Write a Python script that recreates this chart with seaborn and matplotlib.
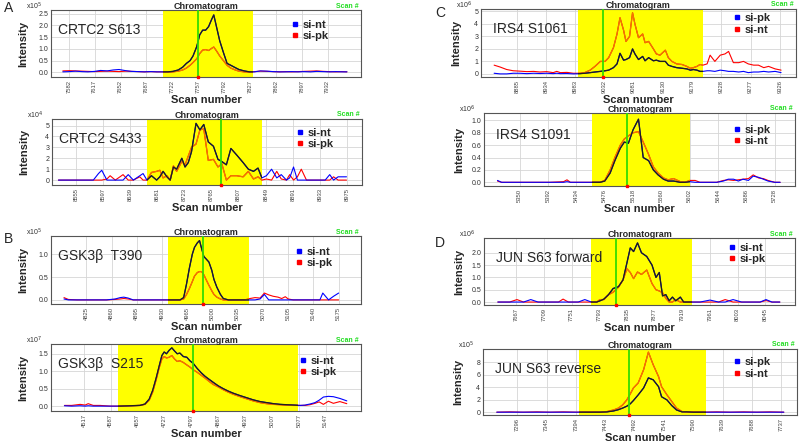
import matplotlib
matplotlib.use("Agg")
import matplotlib.pyplot as plt
import seaborn as sns
import pandas as pd
from matplotlib.lines import Line2D

sns.set_theme(style="whitegrid")
plt.rcParams['font.family'] = ['Liberation Sans', 'DejaVu Sans']

# ---------------- data ----------------
# A1  CRTC2 S613 (x1e5)
a1_scan = [7574,7583,7591,7600,7608,7617,7625,7634,7642,7650,7659,7667,7676,7684,7693,7701,7710,
           7716,7723,7730,7736,7741,7746,7750,7755,7759,7763,7767,7771,7775,7778,7782,7786,7791,7796,7801,7807,7812,7819,7826,
           7833,7841,7850,7858,7867,7875,7883,7892,7900,7909,7917,7926,7934,7943,7951,7958]
a1_blue = [0.02,0.03,0.05,0.03,0.02,0.04,0.08,0.06,0.10,0.12,0.07,0.04,0.03,0.02,0.03,0.02,0.02,
           0.02,0.04,0.10,0.22,0.38,0.50,0.70,1.10,1.60,1.80,1.80,1.95,2.25,2.45,1.90,1.35,0.85,0.38,0.30,0.20,0.12,0.06,0.02,
           0.02,0.06,0.05,0.03,0.02,0.02,0.03,0.02,0.03,0.02,0.04,0.03,0.02,0.03,0.02,0.02]
a1_red = [0.06,0.07,0.06,0.05,0.04,0.03,0.04,0.05,0.04,0.03,0.05,0.04,0.03,0.02,0.03,0.02,0.02,
          0.01,0.02,0.05,0.10,0.18,0.30,0.42,0.58,0.80,0.95,0.97,0.93,1.02,1.08,0.90,0.70,0.50,0.30,0.18,0.10,0.05,0.02,0.01,
          0.03,0.05,0.04,0.03,0.02,0.03,0.02,0.03,0.04,0.05,0.06,0.04,0.03,0.02,0.03,0.02]

# A2  CRTC2 S433 (x1e4)
a2_scan = [8528,8582,8590,8595,8603,8608,8616,8628,8636,8644,
           8654,8659,8665,8672,8680,8685,8690,8696,8701,8706,
           8711,8719,8724,8729,8734,8741,8747,8753,8760,8768,
           8775,8781,8788,8795,8804,8814,8822,8830,8837,8843,
           8850,8858,8866,8873,8881,8886,8892,8898,8904,8912,
           8933,8941,8948,8954,8961,8974]
a2_blue = [0,0,0.6,0.9,0,0,0,0,0.5,0,
           0.4,0.6,0,0.4,0,0.3,0.8,0.3,0,1.2,
           1.0,2.0,1.2,1.6,2.6,5.2,4.6,5.1,3.5,3.1,
           1.9,1.7,1.4,2.9,2.3,1.6,1.0,0.8,1.1,0.2,
           0.4,1.0,0.2,0.5,0,0.2,1.2,0,0,0,
           0,0,0.5,0,0.3,0.3]
a2_red = [0,0,0,0,0.1,0.4,0,0.5,0,0,
          0.3,0,0,0.7,0.8,0.9,0.2,0.4,0,1.3,
          0.8,1.7,1.4,2.2,3.0,3.3,4.6,4.7,1.8,1.9,
          1.2,1.5,0.0,0.4,0.4,0.3,0.8,0.1,0.3,0.0,
          0.1,0.0,0.8,0.1,0.0,0.5,0.0,0.3,1.0,0.0,
          0,0,0,0.3,0,0]

# B1  GSK3b T390 (x1e5)
b1_scan = [4794,4800,4812,4826,4839,4853,4865,4872,4877,4883,
           4890,4904,4918,4932,4946,4955,4960,4964,4968,4972,
           4975,4979,4982,4985,4988,4991,4995,4999,5002,5006,
           5011,5015,5022,5034,5045,5052,5059,5066,5072,5078,
           5084,5091,5096,5101,5105,5112,5126,5140,5149,5153,
           5161,5168,5175]
b1_blue = [0.02,0,0,0,0,0,0.02,0.05,0.06,0.04,
           0,0,0,0,0,0.0,0.05,0.35,0.7,1.0,
           1.15,1.25,1.3,1.12,0.95,0.9,0.83,0.65,0.45,0.28,
           0.12,0.03,0,0,0,0,0,0.02,0.12,0.0,
           0,0,0,0,0,0,0,0,0.0,0.15,
           0.0,0.08,0.15]
b1_red = [0.05,0.01,0,0,0,0,0.01,0.02,0.03,0.02,
          0,0,0,0,0,0.0,0.02,0.12,0.25,0.4,
          0.52,0.6,0.62,0.62,0.55,0.45,0.32,0.2,0.12,0.06,
          0.02,0.0,0,0,0,0.03,0.05,0.04,0.15,0.11,
          0.08,0.06,0.03,0.07,0.02,0,0,0,0,0,
          0,0,0]

# B2  GSK3b S215 (x1e7)
b2_scan = [4466,4485,4507,4520,4528,4541,4559,4585,4611,4637,
           4663,4676,4687,4696,4705,4713,4720,4726,4732,4739,
           4746,4753,4760,4767,4776,4785,4793,4802,4812,4823,
           4833,4844,4854,4867,4880,4893,4906,4924,4941,4958,
           4976,4993,5011,5028,5045,5063,5080,5093,5106,5119,
           5130,5141,5154,5167,5184,5202]
b2_blue = [0.01,0.0,0.01,0.0,0.01,0.0,0.0,0.0,0.0,0.01,
           0.02,0.06,0.2,0.45,0.8,1.15,1.45,1.55,1.5,1.6,
           1.67,1.58,1.5,1.52,1.42,1.4,1.3,1.22,1.08,0.95,
           0.85,0.76,0.68,0.58,0.5,0.43,0.37,0.3,0.24,0.18,
           0.13,0.1,0.07,0.05,0.04,0.03,0.02,0.03,0.06,0.1,
           0.17,0.26,0.28,0.27,0.22,0.15]
b2_red = [0.02,0.02,0.05,0.03,0.07,0.02,0.02,0.0,0.0,0.01,
          0.02,0.05,0.17,0.4,0.75,1.1,1.35,1.42,1.38,1.4,
          1.45,1.35,1.28,1.3,1.25,1.18,1.12,1.04,0.97,0.88,
          0.8,0.7,0.62,0.55,0.47,0.4,0.34,0.27,0.21,0.15,
          0.1,0.07,0.05,0.04,0.03,0.02,0.02,0.02,0.04,0.08,
          0.12,0.05,0.14,0.08,0.13,0.07]

# C1  IRS4 S1061 (x1e6)
c1_scan = [8847,8857,8868,8879,8890,8902,8913,8924,8935,8946,
           8952,8958,8969,8980,8991,8999,9008,9016,9025,9033,
           9039,9047,9053,9058,9064,9068,9074,9079,9083,9089,
           9096,9100,9106,9114,9119,9125,9134,9139,9145,9153,
           9162,9170,9176,9181,9187,9192,9197,9204,9209,9217,
           9226,9234,9240,9248,9257,9265,9273,9282,9290,9299,
           9307,9318,9328]
c1_blue = [0.05,0.0,0.0,0.05,0.05,0.02,0.05,0.03,0.05,0.02,
           0.05,0.02,0.03,0.0,0.02,0.05,0.1,0.15,0.2,0.25,
           0.3,0.5,0.8,1.65,1.1,1.15,1.3,2.0,1.6,1.15,
           1.4,1.05,1.3,1.05,1.1,1.0,1.0,0.7,0.6,0.5,
           0.45,0.4,0.3,0.35,0.3,0.2,0.2,0.25,0.25,0.2,
           0.3,0.25,0.2,0.2,0.15,0.2,0.1,0.15,0.15,0.2,
           0.15,0.2,0.1]
c1_red = [0.7,0.55,0.35,0.25,0.22,0.18,0.2,0.15,0.18,0.1,
          0.2,0.1,0.12,0.05,0.05,0.1,0.3,0.6,1.0,1.0,
          1.3,2.1,3.2,4.5,3.5,2.6,3.0,4.9,4.0,2.9,
          3.2,2.5,2.6,2.0,1.6,1.5,1.9,1.3,1.0,0.8,
          0.75,0.6,0.45,0.5,0.6,0.75,0.7,0.8,1.5,1.0,
          1.5,1.6,1.8,0.9,0.9,1.0,0.8,0.7,0.7,0.5,
          0.6,0.4,0.3]

# C2  IRS4 S1091 (x1e6)
c2_scan = [5317,5323,5345,5370,5395,5415,5420,5425,5439,5459,
           5469,5476,5484,5491,5499,5505,5511,5518,5526,5533,
           5541,5548,5555,5563,5570,5578,5588,5595,5602,5610,
           5617,5632,5642,5652,5659,5667,5674,5681,5689,5696,
           5704,5711,5718,5728,5736]
c2_blue = [0.03,0.0,0.0,0.0,0.0,0.0,0.01,0.0,0.0,0.0,
           0.0,0.02,0.15,0.35,0.55,0.65,0.63,0.85,1.02,0.4,
           0.35,0.2,0.12,0.05,0.02,0.02,0.0,0.0,0.01,0.0,
           0.0,0.0,0.0,0.02,0.05,0.05,0.02,0.05,0.03,0.1,
           0.08,0.05,0.02,0.0,0.0]
c2_red = [0.02,0.0,0.0,0.0,0.0,0.01,0.04,0.0,0.0,0.0,
          0.0,0.03,0.2,0.4,0.6,0.7,0.75,0.8,0.82,0.65,
          0.45,0.25,0.15,0.07,0.04,0.06,0.01,0.0,0.03,0.03,
          0.0,0.0,0.0,0.03,0.04,0.03,0.04,0.05,0.06,0.12,
          0.07,0.06,0.03,0.0,0.0]

# D1  JUN S63 forward (x1e6)
d1_scan = [7639,7657,7668,7678,7689,7700,7718,7731,7738,7746,
           7761,7771,7781,7789,7794,7800,7807,7814,7822,7829,
           7835,7840,7845,7851,7857,7865,7873,7879,7884,7889,
           7894,7899,7904,7909,7916,7921,7931,7946,7961,7974,
           7984,7996,8009,8027,8037,8046,8055,8067]
d1_blue = [0,0,0,0,0.1,0,0,0,0,0,
           0,0.1,0,0,0.05,0.12,0.3,0.55,0.62,0.9,
           1.6,2.2,2.05,2.4,2.0,1.85,1.5,1.0,1.2,0.25,
           0.3,0.05,0.2,0.05,0.2,0.0,0,0,0.08,0,
           0,0.1,0,0,0,0.1,0,0]
d1_red = [0,0,0.1,0,0,0,0,0,0.12,0,
          0,0,0,0,0.1,0.1,0.3,0.4,0.6,0.9,
          1.35,1.2,0.95,1.22,1.12,1.3,0.75,0.5,0.45,0.38,
          0.15,0.0,0.0,0.1,0.0,0,0,0,0,0,
          0.1,0,0,0,0,0.06,0,0]

# D2  JUN S63 reverse (x1e5)
d2_scan = [7262,7284,7306,7329,7351,7373,7395,7418,7434,7446,
           7457,7465,7472,7479,7485,7490,7498,7507,7515,7523,
           7532,7537,7546,7554,7562,7571,7579,7590,7607,7629,
           7652,7674,7696,7718,7741]
d2_blue = [0.05,0.05,0.05,0.05,0.05,0.05,0.05,0.05,0.05,0.1,
           0.25,0.45,0.7,1.0,1.4,1.9,2.8,3.9,5.5,5.2,
           4.1,2.5,2.0,1.1,0.4,0.1,0.1,0.05,0.05,0.05,
           0.05,0.05,0.05,0.05,0.05]
d2_red = [0.05,0.1,0.05,0.1,0.05,0.1,0.05,0.1,0.05,0.15,
          0.4,0.7,1.2,2.0,3.0,3.9,4.7,6.8,9.6,7.6,
          5.7,4.1,2.8,1.75,0.7,0.15,0.1,0.1,0.05,0.1,
          0.05,0.1,0.05,0.1,0.05]

# tick labels / ranges
a1_ticks = [7582,7617,7652,7687,7722,7757,7792,7827,7862,7897,7932]
a2_ticks = [8555,8597,8639,8681,8723,8765,8807,8849,8891,8933,8975]
b1_ticks = [4825,4860,4895,4930,4965,5000,5035,5070,5105,5140,5175]
b2_ticks = [4517,4587,4657,4727,4797,4867,4937,5007,5077,5147]
c1_ticks = [8885,8934,8983,9032,9081,9130,9179,9228,9277,9326]
c2_ticks = [5350,5392,5434,5476,5518,5560,5602,5644,5686,5728]
d1_ticks = [7667,7709,7751,7793,7835,7877,7919,7961,8003,8045]
d2_ticks = [7296,7345,7394,7443,7492,7541,7590,7639,7688,7737]

a1_yt = ["0.0","0.5","1.0","1.5","2.0","2.5"]
a2_yt = ["0","1","2","3","4","5"]
b1_yt = ["0.0","0.5","1.0"]
b2_yt = ["0.0","0.5","1.0","1.5"]
c1_yt = ["0","1","2","3","4","5"]
c2_yt = ["0.0","0.2","0.4","0.6","0.8","1.0"]
d1_yt = ["0.0","0.5","1.0","1.5","2.0"]
d2_yt = ["0","2","4","6","8"]

panels = [
    dict(letter=("A", 4, 8), name="CRTC2 S613", exp="5", rect=(51, 10, 361, 77), xlim=(7558, 7977), ticks=a1_ticks,
         span=(7710, 7831), green=7757, ylim=(-0.2, 2.66), yt=a1_yt,
         scan=a1_scan, blue=a1_blue, red=a1_red, labels=("si-nt", "si-pk"), leg=(291, 30.5)),
    dict(letter=None, name="CRTC2 S433", exp="4", rect=(52, 119, 362, 185), xlim=(8518, 8998), ticks=a2_ticks,
         span=(8665, 8843), green=8780, ylim=(-0.45, 5.6), yt=a2_yt,
         scan=a2_scan, blue=a2_blue, red=a2_red, labels=("si-nt", "si-pk"), leg=(296, 138.5)),
    dict(letter=("B", 4, 239), name="GSK3β  T390", exp="5", rect=(51, 236, 361, 304), xlim=(4776, 5206), ticks=b1_ticks,
         span=(4938, 5051), green=4987, ylim=(-0.09, 1.40), yt=b1_yt,
         scan=b1_scan, blue=b1_blue, red=b1_red, labels=("si-nt", "si-pk"), leg=(295, 257.5)),
    dict(letter=None, name="GSK3β  S215", exp="7", rect=(51, 344, 361, 411), xlim=(4431, 5239), ticks=b2_ticks,
         span=(4606, 5075), green=4801, ylim=(-0.14, 1.78), yt=b2_yt,
         scan=b2_scan, blue=b2_blue, red=b2_red, labels=("si-nt", "si-pk"), leg=(299, 366.5)),
    dict(letter=("C", 435, 13), name="IRS4 S1061", exp="6", rect=(481, 9, 796, 77), xlim=(8825, 9353), ticks=c1_ticks,
         span=(8988, 9197), green=9029, ylim=(-0.25, 5.2), yt=c1_yt,
         scan=c1_scan, blue=c1_blue, red=c1_red, labels=("si-pk", "si-nt"), leg=(733, 24)),
    dict(letter=None, name="IRS4 S1091", exp="6", rect=(484, 113, 795, 186), xlim=(5297, 5758), ticks=c2_ticks,
         span=(5457, 5602), green=5509, ylim=(-0.06, 1.12), yt=c2_yt,
         scan=c2_scan, blue=c2_blue, red=c2_red, labels=("si-pk", "si-nt"), leg=(733, 135.5)),
    dict(letter=("D", 435, 243), name="JUN S63 forward", exp="6", rect=(484, 238, 795, 305), xlim=(7618, 8090), ticks=d1_ticks,
         span=(7780, 7934), green=7818, ylim=(-0.12, 2.6), yt=d1_yt,
         scan=d1_scan, blue=d1_blue, red=d1_red, labels=("si-nt", "si-pk"), leg=(728, 253.5)),
    dict(letter=None, name="JUN S63 reverse", exp="5", rect=(483, 349, 797, 415), xlim=(7239, 7763), ticks=d2_ticks,
         span=(7399, 7611), green=7483, ylim=(-0.4, 10.1), yt=d2_yt,
         scan=d2_scan, blue=d2_blue, red=d2_red, labels=("si-pk", "si-nt"), leg=(733, 368)),
]

W, H = 800, 443
fig = plt.figure(figsize=(8, 4.43), dpi=100)
fig.patch.set_facecolor("white")


def fx(x):
    return x / W


def fy(y):
    return 1 - y / H


for p in panels:
    l, t, r, b = p["rect"]
    ax = fig.add_axes([fx(l), fy(b), (r - l) / W, (b - t) / H])
    ax.set_facecolor("white")
    ax.grid(True, color="#d6d6d6", lw=0.6)
    ax.set_axisbelow(True)
    span = ax.axvspan(p["span"][0], p["span"][1], color="#ffff00", lw=0, zorder=1)
    df = pd.DataFrame({"scan": p["scan"], "blue": p["blue"], "red": p["red"]})
    for col, c_out, c_in in [("red", "#ff0000", "#f07800"), ("blue", "#0000ff", "#1e1e1e")]:
        sns.lineplot(data=df, x="scan", y=col, color=c_out, lw=0.8, ax=ax, zorder=3,
                     estimator=None, legend=False)
        sns.lineplot(data=df, x="scan", y=col, color=c_in, lw=0.95, ax=ax, zorder=4,
                     estimator=None, legend=False)
        ax.lines[-1].set_clip_path(span)
    ax.axvline(p["green"], color="#33dd00", lw=1.3, zorder=5)
    ax.set_xlim(*p["xlim"])
    ax.set_ylim(*p["ylim"])
    ax.plot([p["green"]], [p["ylim"][0]], marker="s", ms=1.8, color="#ff0000", lw=0,
            clip_on=False, zorder=6)
    ax.set_xlabel("")
    ax.set_ylabel("")
    ax.set_xticks(p["ticks"])
    ax.set_xticklabels([str(v) for v in p["ticks"]], rotation=90, fontsize=4.2, color="#444444")
    yv = [float(s) for s in p["yt"]]
    ax.set_yticks(yv)
    ax.set_yticklabels(p["yt"], fontsize=5, color="#333333")
    ax.tick_params(axis="both", length=0, pad=2)
    for s in ax.spines.values():
        s.set_color("#555555")
        s.set_linewidth(0.8)
    ax.set_title("Chromatogram", fontsize=6.5, fontweight="bold", pad=1.0)

    h = b - t
    # axis labels
    fig.text(fx((l + r) / 2), fy(b + 23), "Scan number", ha="center", va="center",
             fontsize=8, fontweight="bold")
    fig.text(fx(l - 28 if l < 400 else l - 25), fy((t + b) / 2), "Intensity", ha="center", va="center",
             rotation=90, fontsize=8, fontweight="bold")
    # extra labels
    fig.text(fx(r - 2), fy(t - 4), "Scan #", ha="right", va="center", fontsize=5,
             fontweight="bold", color="#22dd22")
    fig.text(fx(l - 25), fy(t - 4), "x10$^{%s}$" % p["exp"], ha="left", va="center", fontsize=5,
             color="#333333")
    fig.text(fx(l + 7 if l < 400 else l + 12), fy(t + h * 0.30), p["name"], ha="left", va="center",
             fontsize=10)
    if p["letter"]:
        lt, lx, ly = p["letter"]
        fig.text(fx(lx), fy(ly), lt, ha="left", va="center", fontsize=10)

    handles = [Line2D([], [], marker="s", ms=3, lw=0, color="#0000ff"),
               Line2D([], [], marker="s", ms=3, lw=0, color="#ff0000")]
    ax.legend(handles, list(p["labels"]), loc="center left",
              bbox_to_anchor=(fx(p["leg"][0]), fy(p["leg"][1])), bbox_transform=fig.transFigure,
              frameon=False, prop=dict(weight="bold", size=8), handlelength=0.7,
              handletextpad=0.35, labelspacing=0.15, borderpad=0, borderaxespad=0)

fig.savefig("out.png", dpi=100, facecolor="white")
